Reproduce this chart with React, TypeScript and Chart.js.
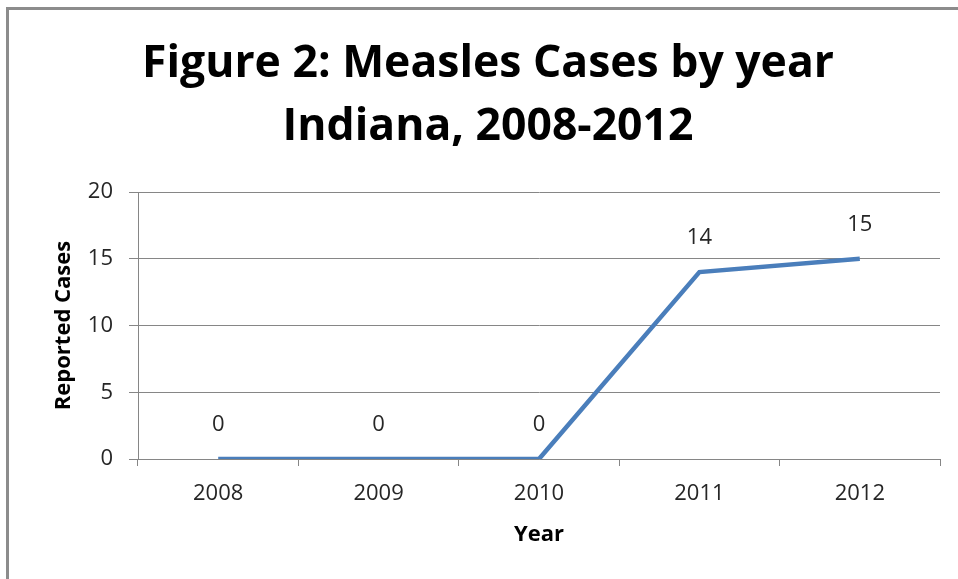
import React, { useEffect, useRef } from "react";
import { Chart, registerables } from "chart.js";

Chart.register(...registerables);

const TITLE_LINES = ["Figure 2: Measles Cases by year", "Indiana, 2008-2012"];
const YEARS = ["2008", "2009", "2010", "2011", "2012"];
const CASES = [0, 0, 0, 14, 15];
const Y_TITLE = "Reported Cases";
const X_TITLE = "Year";

const FONT = "'Open Sans', Lato, sans-serif";

const dataLabels = {
  id: "dataLabels",
  afterDatasetsDraw(chart: any) {
    const ctx = chart.ctx;
    const meta = chart.getDatasetMeta(0);
    const data = chart.data.datasets[0].data as number[];
    ctx.save();
    ctx.font = `22px ${FONT}`;
    ctx.fillStyle = "#262626";
    ctx.textAlign = "center";
    ctx.textBaseline = "middle";
    meta.data.forEach((pt: any, i: number) => {
      ctx.fillText(String(data[i]), pt.x, pt.y - 34);
    });
    ctx.restore();
  },
};

export default function App() {
  const ref = useRef<HTMLCanvasElement | null>(null);
  useEffect(() => {
    if (!ref.current) return;
    const chart = new Chart(ref.current, {
      type: "line",
      data: {
        labels: YEARS,
        datasets: [
          {
            data: CASES,
            borderColor: "#4A7EBB",
            borderWidth: 4.5,
            pointRadius: 0,
            tension: 0,
            fill: false,
          },
        ],
      },
      options: {
        responsive: false,
        animation: false,
        layout: { padding: { left: 36, right: 18, top: 0, bottom: 0 } },
        plugins: {
          legend: { display: false },
          tooltip: { enabled: false },
          title: {
            display: true,
            text: TITLE_LINES,
            color: "#000",
            font: { family: FONT, size: 44.5, weight: "bold", lineHeight: 63 / 44.5 },
            padding: { top: 33, bottom: 33 },
          },
        },
        scales: {
          x: {
            offset: true,
            afterFit: (scale: any) => {
              scale.height = 120;
            },
            grid: {
              offset: true,
              drawOnChartArea: false,
              drawTicks: true,
              tickLength: 7,
              color: "#868686",
            },
            border: { display: true, color: "#868686" },
            ticks: { color: "#262626", font: { family: FONT, size: 22 }, padding: 15 },
            title: {
              display: true,
              text: X_TITLE,
              color: "#000",
              font: { family: FONT, size: 22, weight: "bold" },
              padding: { top: 0, bottom: 31 },
            },
          },
          y: {
            min: 0,
            max: 20,
            afterFit: (scale: any) => {
              scale.width = 102;
            },
            ticks: { stepSize: 5, color: "#262626", font: { family: FONT, size: 22 }, padding: 16 },
            grid: { color: "#868686", tickLength: 9, drawTicks: true },
            border: { display: true, color: "#868686" },
            title: {
              display: true,
              text: Y_TITLE,
              color: "#000",
              font: { family: FONT, size: 22, weight: "bold" },
              padding: { top: 15, bottom: 0 },
            },
          },
        },
      },
      plugins: [dataLabels],
    });
    return () => chart.destroy();
  }, []);

  return (
    <div style={{ position: "fixed", left: 0, top: 0, width: 958, height: 579, background: "#fff" }}>
      <div
        style={{
          position: "absolute",
          left: 6,
          top: 7,
          right: 0,
          bottom: 0,
          borderTop: "3px solid #8c8c8c",
          borderLeft: "3px solid #8c8c8c",
        }}
      />
      <canvas ref={ref} width={958} height={579} style={{ position: "absolute", left: 0, top: 0 }} />
    </div>
  );
}
